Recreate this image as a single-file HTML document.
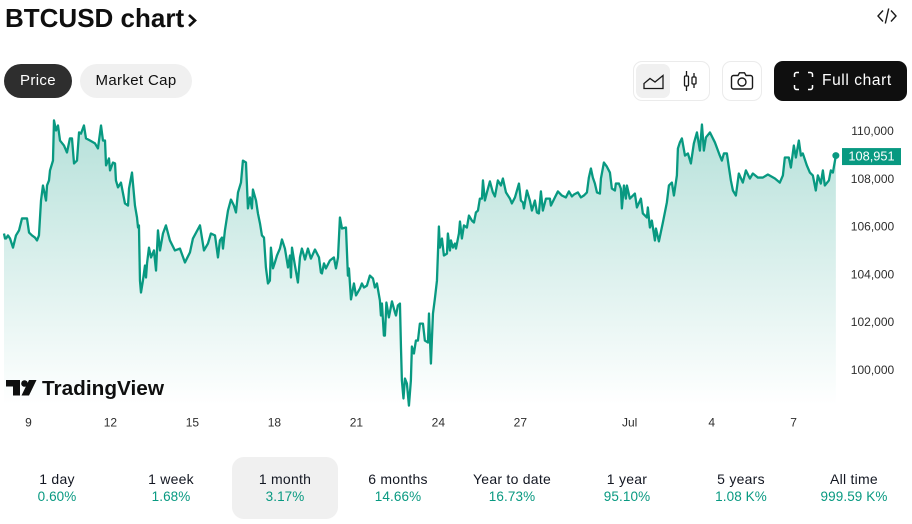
<!DOCTYPE html>
<html lang="en">
<head>
<meta charset="utf-8">
<title>BTCUSD chart</title>
<style>
html,body{margin:0;padding:0;background:#fff;}
body{width:912px;height:524px;position:relative;overflow:hidden;font-family:"Liberation Sans",sans-serif;color:#131722;}
.abs{position:absolute;box-sizing:border-box;}
#title{left:5px;top:2px;font-size:26px;line-height:32px;font-weight:700;color:#0f0f0f;white-space:nowrap;}
.pill{top:64px;height:34px;border-radius:17px;font-size:15px;line-height:34px;text-align:center;letter-spacing:.35px;}
.box{top:61px;height:40px;border:1px solid #ebebeb;border-radius:9px;background:#fff;}
.tab{top:457px;height:62px;width:114px;text-align:center;border-radius:12px;}
.tab .t{position:absolute;left:0;right:0;top:14px;font-size:14px;line-height:17px;color:#131722;letter-spacing:.25px;white-space:nowrap;}
.tab .v{position:absolute;left:0;right:0;top:32px;font-size:13.5px;line-height:16px;color:#089981;letter-spacing:.1px;white-space:nowrap;}
svg text{font-family:"Liberation Sans",sans-serif;}
</style>
</head>
<body>

<div class="abs" id="title">BTCUSD chart</div>
<svg class="abs" style="left:187px;top:13px" width="11" height="15" viewBox="0 0 11 15"><path d="M2 2l6 5.500-6 5.500" fill="none" stroke="#0f0f0f" stroke-width="2.600"/></svg>
<svg class="abs" style="left:876px;top:7px" width="22" height="18" viewBox="0 0 22 18"><path d="M7 3.500L2 9l5 5.500M15 3.500L20 9l-5 5.500M12.700 1.500L9.300 16.500" fill="none" stroke="#1a1a1a" stroke-width="1.400"/></svg>

<div class="abs pill" style="left:4px;width:68px;background:#2e2e2e;color:#fff">Price</div>
<div class="abs pill" style="left:80px;width:112px;background:#f0f0f0;color:#0f0f0f">Market Cap</div>

<div class="abs box" style="left:633px;width:77px"></div>
<div class="abs" style="left:636px;top:64px;width:34px;height:34px;background:#f0f0f0;border-radius:7px"></div>
<svg class="abs" style="left:642px;top:72px" width="24" height="18" viewBox="0 0 24 18"><path d="M2 16.500V11.500L8 6.500l5 3.500 8-6.500v13z" fill="none" stroke="#1a1a1a" stroke-width="1.300"/></svg>
<svg class="abs" style="left:681px;top:70px" width="18" height="22" viewBox="0 0 18 22"><g fill="none" stroke="#1a1a1a" stroke-width="1.300"><rect x="3.500" y="6" width="4" height="10" rx="1"/><path d="M5.500 1v5M5.500 16v5"/><rect x="11" y="7" width="4" height="7" rx="1"/><path d="M13 3v4M13 14v4"/></g></svg>

<div class="abs box" style="left:722px;width:40px"></div>
<svg class="abs" style="left:730px;top:71px" width="24" height="20" viewBox="0 0 24 20"><g fill="none" stroke="#1a1a1a" stroke-width="1.400"><path d="M3.500 4.500H8L9.500 1.800h5L16 4.500h4.500a2 2 0 0 1 2 2v9.500a2 2 0 0 1-2 2h-17a2 2 0 0 1-2-2V6.500a2 2 0 0 1 2-2z"/><circle cx="12" cy="11" r="4"/></g></svg>

<div class="abs" style="left:774px;top:61px;width:133px;height:40px;background:#0f0f0f;border-radius:9px"></div>
<svg class="abs" style="left:793px;top:71px" width="21" height="20" viewBox="0 0 21 20"><path d="M1.500 6V3.500a2 2 0 0 1 2-2H6M15 1.500h2.500a2 2 0 0 1 2 2V6M19.500 14v2.500a2 2 0 0 1-2 2H15M6 18.500H3.500a2 2 0 0 1-2-2V14" fill="none" stroke="#fff" stroke-width="1.500"/></svg>
<div class="abs" style="left:822px;top:71px;font-size:15.500px;line-height:20px;color:#fff;letter-spacing:.6px;white-space:nowrap">Full chart</div>

<svg id="chart" class="abs" style="left:0;top:0" width="912" height="440" viewBox="0 0 912 440">
  <defs>
    <linearGradient id="area-gradient" gradientUnits="userSpaceOnUse" x1="0" y1="118" x2="0" y2="405">
      <stop offset="0" stop-color="#089981" stop-opacity="0.30"/>
      <stop offset="1" stop-color="#089981" stop-opacity="0"/>
    </linearGradient>
  </defs>
  <path id="area" fill="url(#area-gradient)"/>
  <path id="line" fill="none" stroke="#089981" stroke-width="2.300" stroke-linejoin="round"/>
  <g id="y-axis"></g>
  <g id="x-axis"></g>
  <circle id="last-dot" r="3.500" fill="#089981"/>
  <rect id="last-box" x="842" width="59" height="17" fill="#089981"/>
  <text id="last-label" x="871.500" text-anchor="middle" font-size="12.800" fill="#fff"></text>
  <g>
    <path d="M6 380h14v15.500h-7V386.500H6z M29 380h7.500L29 395.500h-7.500z" fill="#0f0f0f"/>
    <circle cx="24.500" cy="383.500" r="3.300" fill="#0f0f0f"/>
    <text x="42" y="395" font-size="20.500" font-weight="700" fill="#0f0f0f" textLength="122" lengthAdjust="spacingAndGlyphs">TradingView</text>
  </g>
</svg>

<div class="abs tab" style="left:0"><div class="t">1 day</div><div class="v">0.60%</div></div>
<div class="abs tab" style="left:114px"><div class="t">1 week</div><div class="v">1.68%</div></div>
<div class="abs tab" style="left:232px;width:106px;background:#f0f0f0"><div class="t">1 month</div><div class="v">3.17%</div></div>
<div class="abs tab" style="left:341px"><div class="t">6 months</div><div class="v">14.66%</div></div>
<div class="abs tab" style="left:455px"><div class="t">Year to date</div><div class="v">16.73%</div></div>
<div class="abs tab" style="left:570px"><div class="t">1 year</div><div class="v">95.10%</div></div>
<div class="abs tab" style="left:684px"><div class="t">5 years</div><div class="v">1.08 K%</div></div>
<div class="abs tab" style="left:797px"><div class="t">All time</div><div class="v">999.59 K%</div></div>

<script>
var hours = [
0,0.9,1.8,3.5,5.3,7.9,10.5,13.2,15.8,20.2,
22,24.6,27.2,29,30.7,32.5,34.2,36.9,37.8,39.5,
40.4,43,43.9,45.7,47.4,49.2,52.7,55.3,57.9,59.7,
61.5,64.1,65.9,67.6,70.2,72,75.5,79.9,82.5,85.2,
86.9,88.7,89.6,92.2,93.1,95.7,97.5,98.3,100.1,102.7,
106.2,108.9,109.8,112.4,115,116.8,117.7,118.5,119.4,120.3,
122,123.8,124.7,125.6,127.3,129.1,131.7,133.5,135.2,137,
139.6,142.2,145.7,150.1,154.5,158.9,163.3,165.9,172.1,175.6,
179.1,181.7,185.3,187.9,189.6,191.4,192.3,194,196.7,199.3,
201.9,203.7,205.5,208.1,209.8,212.5,214.2,216,217.7,218.6,
221.3,223,224.8,226.5,228.3,230,231.8,233.5,234.4,236.2,
237.9,239.7,242.3,244.1,246.7,249.4,251.1,252,252.9,255.5,
258.1,259.9,261.6,263.4,264.3,266.9,269.5,273.1,276.6,278.3,
279.2,281,282.7,286.2,289.7,291.5,293.3,295,296.8,300.3,
302,302.9,304.7,307.3,309.1,312.6,314.3,316.1,318.7,321.3,
324,325.7,327.5,330.1,331,331.9,333.6,334.5,335.8,338,
340.7,343.3,344.2,345.9,347.7,348.6,349.4,350.8,352.1,353.8,
355.6,357.3,358.2,360,361.7,363.5,365.2,367.9,369.6,372.3,
373.2,374.9,376.7,378.4,380.2,381.9,382.8,384.6,386.3,389,
389.8,391.6,392.5,394.2,396,396.9,399.5,400.4,402.1,403.9,
406.5,408.3,410.9,412.7,414.4,416.2,417.9,419.7,420.6,422.3,
424.1,426.7,429.3,431.1,433.7,436.4,438.1,440.8,444.3,446,
448.7,452.2,453.9,455.7,456.6,459.2,461.8,463.6,466.2,468,
469.7,471.5,473.2,475.9,479.4,480.3,483.8,486.4,489.9,493.4,
496.1,498.7,500.5,504,506.6,509.2,511.9,513.6,515.4,517.1,
518.9,520.7,523.3,524.2,526.8,529.4,532.1,533.8,536.5,537.3,
540,541.7,542.6,544.4,546.1,547,549.6,552.3,554,555.8,
559.3,561,564.6,565.4,567.2,568.9,571.6,572.5,575.1,578.6,
582.1,583.9,586.5,588.3,590.9,591.8,593.5,595.3,598,600.6,
603.2,605.8,608.5,611.1,612.9,614.6,616.4,619.9,624.3,628.6,
630.4,632.2,634.8,636.6,638.3,640.1,642.7,645.3,648.8,651.5,
655,657.6,662,666.4,670.8,677,681.3,684,685.7,689.2,
691,693.6,695.4,698,699.8,701.5,705,707.7,710.3,712.9,
714.7,717.3,719.1,720.8,724.4,726.1,727.9,730.5
];
var prices = [
105690,105480,105480,105610,105480,105100,105610,105820,106320,106320,
105730,105610,105520,105400,105610,107070,107700,107070,107700,107910,
108330,108740,110420,110000,110210,109580,109370,109080,109670,109670,
108620,108740,109920,109870,110210,109670,109580,109460,109250,110210,
109580,109580,108540,108830,108330,108660,108620,107910,107620,107820,
106950,106860,107570,108240,106860,106360,105940,106030,103720,103220,
103720,104350,103850,104440,105100,104690,104980,104140,105820,104980,
105690,106030,105400,104980,105060,104480,104900,105480,106030,104980,
105270,105690,105610,104690,105400,105520,105060,105820,106650,107110,
106860,106570,107410,107820,108740,108660,106740,107200,106740,107530,
107070,106530,106110,105610,105520,104270,103600,103720,105100,104230,
104480,104770,105060,105440,105060,104270,104770,103850,105100,104350,
103640,104690,105060,104770,104600,105060,104640,105020,104690,104060,
104020,104440,104230,104560,104690,104230,104690,106360,105900,105940,
103930,104230,102930,103600,103100,103390,103600,103430,103510,103930,
103810,103430,103600,102890,102260,102760,101420,101420,102800,102180,
102850,102390,102260,102680,102760,100920,99540,98790,99620,99410,
98490,99540,100960,100670,101210,101210,101920,101920,101210,101130,
102340,100250,102340,102970,103720,105980,105100,105480,104770,104850,
105690,104980,105400,105100,105270,105060,105690,106190,105480,106030,
105940,106440,106230,106150,106570,106650,107150,107150,107910,107070,
107410,107870,107410,107240,107910,107700,107990,107410,107150,106950,
107200,107780,107070,106990,106740,107490,107070,106650,107070,106570,
106530,107450,106650,107150,107150,106860,107200,107450,107280,107200,
107450,107240,107320,107410,107200,107280,107410,108030,108410,108030,
107780,107410,107360,107990,108660,108490,108240,107570,107490,107780,
107780,107570,106740,107700,107150,107700,107150,107280,107360,106780,
107150,106530,106360,106780,105940,106230,105400,105900,105360,106150,
106990,107700,107820,107280,108120,109250,109500,109670,108950,109040,
108620,109460,109920,109160,110250,109160,109710,109920,109500,108950,
108740,109040,109040,108450,107910,107490,107280,108200,107820,108330,
107990,108200,108030,108030,108160,107990,107820,108120,108870,108870,
108450,109370,108870,109580,108950,109040,108540,108240,108120,107490,
108120,107780,108330,107700,107910,108330,108240,108951
];
var priceTicks = [110000,108000,106000,104000,102000,100000];
var timeTickHours = [21,93,165,237,309,381,453,549,621,693];
var timeTickLabels = ["9","12","15","18","21","24","27","Jul","4","7"];

var SVGNS = "http://www.w3.org/2000/svg";
function xScale(h){ return 4 + h * 1.13875; }
function yScale(p){ return 130.5 + (110000 - p) * 0.0239; }
function money(v){ return String(v).replace(/\B(?=(\d{3})+$)/g, ","); }

var n = Math.min(hours.length, prices.length);
var d = "";
for (var i = 0; i < n; i++) {
  d += (i ? "L" : "M") + xScale(hours[i]).toFixed(2) + " " + yScale(prices[i]).toFixed(2);
}
document.getElementById("line").setAttribute("d", d);
var baseY = 406;
document.getElementById("area").setAttribute("d", d + "L" + xScale(hours[n-1]).toFixed(2) + " " + baseY + "L" + xScale(hours[0]).toFixed(2) + " " + baseY + "Z");

var yAxis = document.getElementById("y-axis");
priceTicks.forEach(function(p){
  var t = document.createElementNS(SVGNS, "text");
  
  
  t.setAttribute("x", 872.5);
  t.setAttribute("y", yScale(p) + 4.5);
  t.setAttribute("text-anchor", "middle");
  t.setAttribute("font-size", "12");
  t.setAttribute("fill", "#2e2e2e");
  t.textContent = money(p);
  yAxis.appendChild(t);
});

var xAxis = document.getElementById("x-axis");
timeTickHours.forEach(function(h, k){
  var t = document.createElementNS(SVGNS, "text");
  
  
  t.setAttribute("x", xScale(h) + 0.5);
  t.setAttribute("y", 426.5);
  t.setAttribute("text-anchor", "middle");
  t.setAttribute("font-size", "12");
  t.setAttribute("fill", "#2e2e2e");
  t.textContent = timeTickLabels[k];
  xAxis.appendChild(t);
});

var lastX = xScale(hours[n-1]), lastY = yScale(prices[n-1]);
var dot = document.getElementById("last-dot");
dot.setAttribute("cx", lastX);
dot.setAttribute("cy", lastY);
document.getElementById("last-box").setAttribute("y", lastY - 7.5);
var lastLabel = document.getElementById("last-label");
lastLabel.setAttribute("y", lastY + 5);
lastLabel.textContent = money(prices[n-1]);
</script>
</body>
</html>
